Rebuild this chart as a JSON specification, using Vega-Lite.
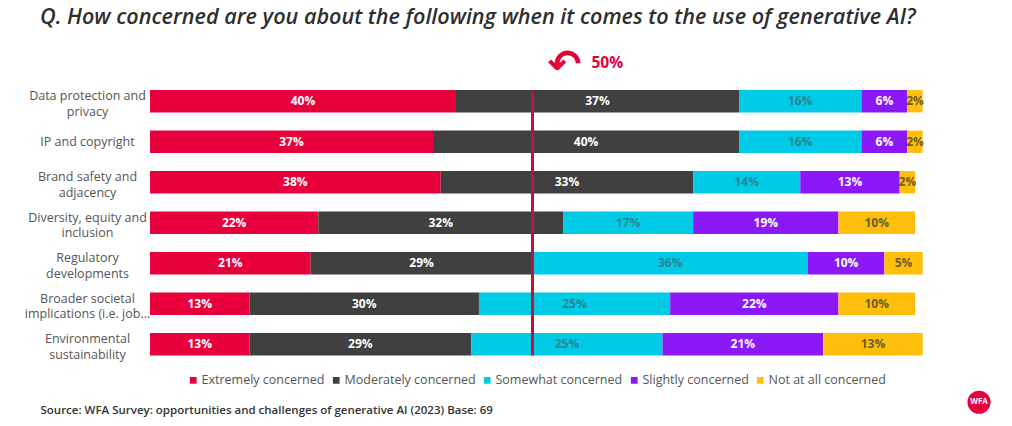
{
  "$schema": "https://vega.github.io/schema/vega-lite/v6.json",
  "width": 765,
  "height": 283.5,
  "autosize": {"type": "none"},
  "padding": {"left": 150, "top": 81, "right": 97, "bottom": 61.5},
  "background": "white",
  "config": {"view": {"stroke": null}, "font": "Open Sans"},
  "title": {
    "text": "Q. How concerned are you about the following when it comes to the use of generative AI?",
    "anchor": "start",
    "frame": "group",
    "dx": -110,
    "offset": 18,
    "font": "Open Sans",
    "fontSize": 21.6,
    "fontStyle": "italic",
    "fontWeight": 600,
    "color": "#2e2e2e"
  },
  "datasets": {
    "survey": [
      {"item": "Data protection and\nprivacy", "level": "Extremely concerned", "pct": 40},
      {"item": "Data protection and\nprivacy", "level": "Moderately concerned", "pct": 37},
      {"item": "Data protection and\nprivacy", "level": "Somewhat concerned", "pct": 16},
      {"item": "Data protection and\nprivacy", "level": "Slightly concerned", "pct": 6},
      {"item": "Data protection and\nprivacy", "level": "Not at all concerned", "pct": 2},
      {"item": "IP and copyright", "level": "Extremely concerned", "pct": 37},
      {"item": "IP and copyright", "level": "Moderately concerned", "pct": 40},
      {"item": "IP and copyright", "level": "Somewhat concerned", "pct": 16},
      {"item": "IP and copyright", "level": "Slightly concerned", "pct": 6},
      {"item": "IP and copyright", "level": "Not at all concerned", "pct": 2},
      {"item": "Brand safety and\nadjacency", "level": "Extremely concerned", "pct": 38},
      {"item": "Brand safety and\nadjacency", "level": "Moderately concerned", "pct": 33},
      {"item": "Brand safety and\nadjacency", "level": "Somewhat concerned", "pct": 14},
      {"item": "Brand safety and\nadjacency", "level": "Slightly concerned", "pct": 13},
      {"item": "Brand safety and\nadjacency", "level": "Not at all concerned", "pct": 2},
      {"item": "Diversity, equity and\ninclusion", "level": "Extremely concerned", "pct": 22},
      {"item": "Diversity, equity and\ninclusion", "level": "Moderately concerned", "pct": 32},
      {"item": "Diversity, equity and\ninclusion", "level": "Somewhat concerned", "pct": 17},
      {"item": "Diversity, equity and\ninclusion", "level": "Slightly concerned", "pct": 19},
      {"item": "Diversity, equity and\ninclusion", "level": "Not at all concerned", "pct": 10},
      {"item": "Regulatory\ndevelopments", "level": "Extremely concerned", "pct": 21},
      {"item": "Regulatory\ndevelopments", "level": "Moderately concerned", "pct": 29},
      {"item": "Regulatory\ndevelopments", "level": "Somewhat concerned", "pct": 36},
      {"item": "Regulatory\ndevelopments", "level": "Slightly concerned", "pct": 10},
      {"item": "Regulatory\ndevelopments", "level": "Not at all concerned", "pct": 5},
      {"item": "Broader societal\nimplications (i.e. job...", "level": "Extremely concerned", "pct": 13},
      {"item": "Broader societal\nimplications (i.e. job...", "level": "Moderately concerned", "pct": 30},
      {"item": "Broader societal\nimplications (i.e. job...", "level": "Somewhat concerned", "pct": 25},
      {"item": "Broader societal\nimplications (i.e. job...", "level": "Slightly concerned", "pct": 22},
      {"item": "Broader societal\nimplications (i.e. job...", "level": "Not at all concerned", "pct": 10},
      {"item": "Environmental\nsustainability", "level": "Extremely concerned", "pct": 13},
      {"item": "Environmental\nsustainability", "level": "Moderately concerned", "pct": 29},
      {"item": "Environmental\nsustainability", "level": "Somewhat concerned", "pct": 25},
      {"item": "Environmental\nsustainability", "level": "Slightly concerned", "pct": 21},
      {"item": "Environmental\nsustainability", "level": "Not at all concerned", "pct": 13}
    ]
  },
  "layer": [
    {
      "data": {"name": "survey"},
      "transform": [
        {"calculate": "indexof(['Extremely concerned','Moderately concerned','Somewhat concerned','Slightly concerned','Not at all concerned'], datum.level)", "as": "rk"},
        {"stack": "pct", "groupby": ["item"], "sort": [{"field": "rk", "order": "ascending"}], "as": ["v0", "v1"]},
        {"calculate": "(datum.v0 + datum.v1) / 2", "as": "mid"},
        {"calculate": "datum.pct + '%'", "as": "lbl"}
      ],
      "layer": [
        {
          "mark": {"type": "bar"},
          "encoding": {
            "y": {
              "field": "item", "type": "nominal", "sort": null,
              "scale": {"paddingInner": 0.45, "paddingOuter": 0.225},
              "axis": {
                "title": null, "domain": false, "ticks": false,
                "labelAlign": "center", "labelPadding": 63,
                "labelExpr": "split(datum.value, '\\n')",
                "labelOffset": {"condition": {"test": "datum.value === 'IP and copyright'", "value": 0}, "value": -5},
                "labelFont": "Open Sans", "labelFontSize": 12.5,
                "labelColor": "#555555", "labelLineHeight": 15.5
              }
            },
            "x": {
              "field": "v0", "type": "quantitative",
              "scale": {"domain": [0, 100], "nice": false, "zero": true},
              "axis": {
                "labels": false, "ticks": false, "domain": false, "grid": false,
                "title": "Source: WFA Survey: opportunities and challenges of generative AI (2023) Base: 69",
                "titleAnchor": "start", "titleAlign": "left", "titleX": -110, "titleY": 46,
                "titleBaseline": "middle", "titleFont": "Open Sans", "titleFontSize": 11.5,
                "titleFontWeight": 600, "titleColor": "#333333"
              }
            },
            "x2": {"field": "v1"},
            "color": {
              "field": "level", "type": "nominal",
              "scale": {
                "domain": ["Extremely concerned", "Moderately concerned", "Somewhat concerned", "Slightly concerned", "Not at all concerned"],
                "range": ["#e8003d", "#404040", "#00cbe6", "#8a18f7", "#ffbe0a"]
              },
              "legend": {
                "title": null, "orient": "none", "direction": "horizontal",
                "legendX": 37, "legendY": 293,
                "symbolType": "square", "symbolSize": 45, "symbolStrokeWidth": 0,
                "labelFont": "Open Sans", "labelFontSize": 12.5, "labelColor": "#555555",
                "labelOffset": 2, "columnPadding": 5, "symbolOffset": 0
              }
            }
          }
        },
        {
          "mark": {"type": "text", "font": "Open Sans", "fontWeight": "bold", "fontSize": 12, "baseline": "middle", "align": "center"},
          "encoding": {
            "y": {"field": "item", "type": "nominal", "sort": null},
            "x": {"field": "mid", "type": "quantitative"},
            "text": {"field": "lbl"},
            "color": {
              "condition": [
                {"test": "datum.level === 'Somewhat concerned'", "value": "#2b8494"},
                {"test": "datum.level === 'Not at all concerned'", "value": "#6a5c2c"}
              ],
              "value": "#ffffff"
            }
          }
        }
      ]
    },
    {
      "data": {"values": [{"at": 50}]},
      "mark": {"type": "rule", "color": "#b8143c", "strokeWidth": 3},
      "encoding": {
        "x": {"field": "at", "type": "quantitative"},
        "y": {"datum": "Data protection and\nprivacy", "type": "nominal", "bandPosition": 0},
        "y2": {"datum": "Environmental\nsustainability", "bandPosition": 1}
      }
    },
    {
      "data": {"values": [{"at": 50, "note": "↶"}]},
      "mark": {"type": "text", "font": "DejaVu Sans", "fontSize": 40, "fontWeight": "bold", "color": "#e8003d", "dx": 32, "dy": -35, "baseline": "middle", "align": "center"},
      "encoding": {
        "x": {"field": "at", "type": "quantitative"},
        "y": {"datum": "Data protection and\nprivacy", "type": "nominal"},
        "text": {"field": "note"}
      }
    },
    {
      "data": {"values": [{"at": 50, "note": "50%"}]},
      "mark": {"type": "text", "font": "Open Sans", "fontSize": 15.5, "fontWeight": "bold", "color": "#e8003d", "dx": 59, "dy": -38, "baseline": "middle", "align": "left"},
      "encoding": {
        "x": {"field": "at", "type": "quantitative"},
        "y": {"datum": "Data protection and\nprivacy", "type": "nominal"},
        "text": {"field": "note"}
      }
    },
    {
      "data": {"values": [{"at": 100, "note": "WFA"}]},
      "layer": [
        {
          "mark": {"type": "point", "filled": true, "shape": "circle", "size": 530, "color": "#e8003d", "opacity": 1, "xOffset": 64, "yOffset": 58},
          "encoding": {
            "x": {"field": "at", "type": "quantitative"},
            "y": {"datum": "Environmental\nsustainability", "type": "nominal"}
          }
        },
        {
          "mark": {"type": "text", "font": "Open Sans", "fontSize": 8, "fontWeight": "bold", "color": "#ffffff", "dx": 64, "dy": 58, "baseline": "middle", "align": "center"},
          "encoding": {
            "x": {"field": "at", "type": "quantitative"},
            "y": {"datum": "Environmental\nsustainability", "type": "nominal"},
            "text": {"field": "note"}
          }
        }
      ]
    }
  ]
}
